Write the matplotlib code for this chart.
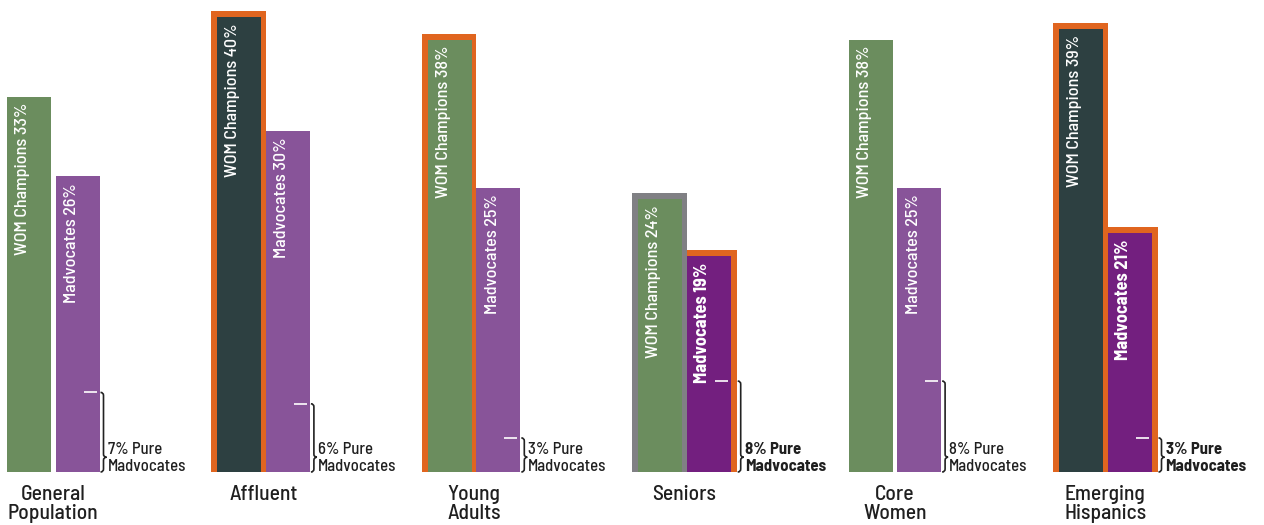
import matplotlib
matplotlib.use("Agg")
import matplotlib.pyplot as plt
from matplotlib.path import Path
from matplotlib.patches import PathPatch

categories = ["General\nPopulation", "Affluent", "Young\nAdults", "Seniors", "Core\nWomen", "Emerging\nHispanics"]
wom = [33, 40, 38, 24, 38, 39]
mad = [26, 30, 25, 19, 25, 21]
pure = [7, 6, 3, 8, 8, 3]
wom_fill = ["green", "dark", "green", "green", "green", "dark"]
mad_fill = ["purple", "purple", "purple", "dpurple", "purple", "dpurple"]
wom_border = [None, "orange", "orange", "gray", None, "orange"]
mad_border = [None, None, None, "orange", None, "orange"]
highlight = [False, False, False, True, False, True]

COL = {"green": "#6b8d5e", "dark": "#2d4041", "purple": "#885499",
       "dpurple": "#731f7f", "orange": "#e0651f", "gray": "#808084"}

W, H = 1264, 525
fig = plt.figure(figsize=(W / 100, H / 100), dpi=100)
ax = fig.add_axes([0, 0, 1, 1])
GX = 210.4   # px per group
PY = 11.37   # px per percent
px = 1 / GX
py = 1 / PY
base_px = 53
ax.set_xlim(-7 * px, (W - 7) * px)
ax.set_ylim(-base_px * py, (H - base_px) * py)
ax.axis("off")

FONT = ["Barlow Semi Condensed", "DejaVu Sans"]
bw = 44 * px
off = 48.5 * px
b = 6 * px
bv = 6 * py

for i in range(len(categories)):
    x1 = i
    x2 = i + off
    if wom_border[i]:
        ax.bar(x1 - b, wom[i] + bv, width=off + b, align="edge", color=COL[wom_border[i]], zorder=1)
    if mad_border[i]:
        ax.bar(x2, mad[i] + bv, width=bw + b, align="edge", color=COL[mad_border[i]], zorder=1)
    ax.bar(x1, wom[i], width=bw, align="edge", color=COL[wom_fill[i]], zorder=2)
    ax.bar(x2, mad[i], width=bw, align="edge", color=COL[mad_fill[i]], zorder=2)
    ax.text(x1 + 15.5 * px, wom[i] - 6 * py, f"WOM Champions {wom[i]}%", rotation=90,
            ha="center", va="top", color="white", fontsize=13, family=FONT,
            fontweight=500, zorder=3)
    ax.text(x2 + 16 * px, mad[i] - 6.5 * py, f"Madvocates {mad[i]}%", rotation=90,
            ha="center", va="top", color="white", fontsize=13, family=FONT,
            fontweight="bold" if highlight[i] else 500, zorder=3)
    right = x2 + bw
    # white tick
    ax.plot([right - 16 * px, right - 3 * px], [pure[i], pure[i]], color="white", lw=1.2, zorder=3,
            solid_capstyle="butt")
    outer = right + (b if mad_border[i] else 0)
    xl = outer + 1 * px
    xm = outer + 4 * px
    xr = outer + 7 * px
    r = 3 * py
    top = pure[i]
    mid = 1.3
    bot = 0
    verts = [(xl, top), (xm, top), (xm, top - r),
             (xm, mid + r),
             (xm, mid), (xr, mid),
             (xm, mid), (xm, mid - r),
             (xm, bot + r),
             (xm, bot), (xl, bot)]
    codes = [Path.MOVETO, Path.CURVE3, Path.CURVE3,
             Path.LINETO,
             Path.CURVE3, Path.CURVE3,
             Path.CURVE3, Path.CURVE3,
             Path.LINETO,
             Path.CURVE3, Path.CURVE3]
    ax.add_patch(PathPatch(Path(verts, codes), fill=False, edgecolor="#222222", lw=1.2, zorder=3))
    ax.text(outer + 8 * px, 0.1, f"{pure[i]}% Pure\nMadvocates", ha="left", va="baseline",
            fontsize=12, family=FONT, color="#1f1f1f", linespacing=1.12,
            fontweight="bold" if highlight[i] else 500, zorder=3)
    ax.text((x1 + x2 + bw) / 2, -13 * py, categories[i], ha="center", va="top",
            fontsize=15.5, family=FONT, color="#1f1f1f", linespacing=1.02, fontweight=500)

fig.savefig("out.png", dpi=100)
